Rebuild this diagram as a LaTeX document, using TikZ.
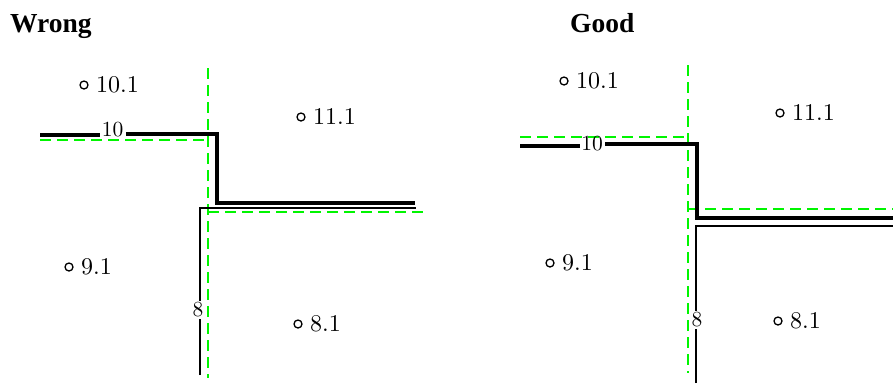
\documentclass[tikz,border=0pt]{standalone}
\usepackage{fontspec}
\newfontfamily\titlefont{Liberation Serif}
\newfontfamily\numfont{lmroman10-regular.otf}
\begin{document}
\begin{tikzpicture}[x=1bp,y=-1bp,
  title/.style={anchor=base west,inner sep=0pt,font=\titlefont\fontsize{27.5bp}{30bp}\selectfont\bfseries},
  pt/.style={circle,draw,line width=1.3bp,minimum size=8bp,inner sep=0pt},
  ptlabel/.style={anchor=west,inner sep=0pt,font=\numfont\fontsize{24bp}{26bp}\selectfont},
  linelabel/.style={inner sep=1.5bp,font=\numfont\fontsize{21.5bp}{23bp}\selectfont},
  thickline/.style={line width=4bp},
  thinline/.style={line width=1.9bp},
  guide/.style={draw={rgb,255:red,0;green,245;blue,0},line width=2bp,dash pattern=on 11bp off 6bp}]
\useasboundingbox (0,0) rectangle (893,383);

% ---------- Wrong ----------
\node[title] (tw) at (10,32) {Wrong};

\coordinate (wgv1) at (208,68);
\coordinate (wgv2) at (208,378);
\coordinate (wgh1) at (40,140);
\coordinate (wgh2) at (208,140);
\coordinate (wgr1) at (208,212);
\coordinate (wgr2) at (425,212);
\draw[guide] (wgv1) -- (wgv2);
\draw[guide] (wgh1) -- (wgh2);
\draw[guide] (wgr1) -- (wgr2);

\node[linelabel] (w10) at (112.5,130) {10};
\coordinate (wa) at (40,135);
\coordinate (wb) at (126,133.5);
\coordinate (wc) at (217,133.5);
\coordinate (wd) at (217,202.5);
\coordinate (we) at (415,202.5);
\draw[thickline] (wa) -- (wa -| w10.west);
\draw[thickline] (wb) -- (wc) -- (wd) -- (we);

\node[linelabel] (w8) at (198,310) {8};
\coordinate (wf) at (200,375);
\coordinate (wg) at (200,208);
\coordinate (wh) at (416,208);
\draw[thinline] (wf) -- (wf |- w8.south);
\draw[thinline] (wf |- w8.north) -- (wg) -- (wh);

\node[pt] (wp1) at (84,85) {};
\node[ptlabel] at ([xshift=12bp]wp1.center) {10.1};
\node[pt] (wp2) at (301,117) {};
\node[ptlabel] at ([xshift=12bp]wp2.center) {11.1};
\node[pt] (wp3) at (69,267) {};
\node[ptlabel] at ([xshift=12bp]wp3.center) {9.1};
\node[pt] (wp4) at (298,324) {};
\node[ptlabel] at ([xshift=12bp]wp4.center) {8.1};

% ---------- Good ----------
\node[title] (tg) at (570,32) {Good};

\coordinate (ggv1) at (688,65);
\coordinate (ggv2) at (688,373);
\coordinate (ggh1) at (520,137);
\coordinate (ggh2) at (688,137);
\coordinate (ggr1) at (688,209);
\coordinate (ggr2) at (893,209);
\draw[guide] (ggv1) -- (ggv2);
\draw[guide] (ggh1) -- (ggh2);
\draw[guide] (ggr1) -- (ggr2);

\node[linelabel] (g10) at (592,143.5) {10};
\coordinate (ga) at (520,145.7);
\coordinate (gb) at (605,144);
\coordinate (gc) at (697,144);
\coordinate (gd) at (697,218);
\coordinate (ge) at (893,218);
\draw[thickline] (ga) -- (ga -| g10.west);
\draw[thickline] (gb) -- (gc) -- (gd) -- (ge);

\node[linelabel] (g8) at (697,320) {8};
\coordinate (gf) at (696,383);
\coordinate (gg) at (696,226);
\coordinate (gh) at (893,226);
\draw[thinline] (gf) -- (gf |- g8.south);
\draw[thinline] (gf |- g8.north) -- (gg) -- (gh);

\node[pt] (gp1) at (564,81) {};
\node[ptlabel] at ([xshift=12bp]gp1.center) {10.1};
\node[pt] (gp2) at (780,113) {};
\node[ptlabel] at ([xshift=12bp]gp2.center) {11.1};
\node[pt] (gp3) at (550,263) {};
\node[ptlabel] at ([xshift=12bp]gp3.center) {9.1};
\node[pt] (gp4) at (778,321) {};
\node[ptlabel] at ([xshift=12bp]gp4.center) {8.1};
\end{tikzpicture}
\end{document}
